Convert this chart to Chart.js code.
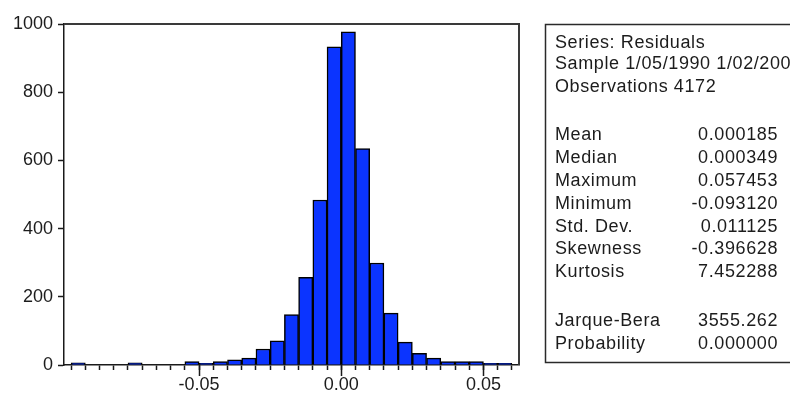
<!DOCTYPE html>
<html lang="en">
<head>
<meta charset="UTF-8">
<title>Residuals histogram</title>
<script src="https://cdn.jsdelivr.net/npm/chart.js@4"></script>
<style>
  html, body { margin: 0; padding: 0; background: #fff; }
  #wrap { width: 790px; height: 394px; position: relative; }
</style>
</head>
<body>
<div id="wrap"><canvas id="hist"></canvas></div>
<script>
// histogram bins (width 0.005), centres and counts
const binCenters = [-0.0925, -0.0875, -0.0825, -0.0775, -0.0725, -0.0675, -0.0625, -0.0575,
                    -0.0525, -0.0475, -0.0425, -0.0375, -0.0325, -0.0275, -0.0225, -0.0175,
                    -0.0125, -0.0075, -0.0025, 0.0025, 0.0075, 0.0125, 0.0175, 0.0225,
                    0.0275, 0.0325, 0.0375, 0.0425, 0.0475, 0.0525, 0.0575];
const counts = [6, 0, 0, 0, 6, 0, 0, 0,
                10, 5, 10, 15, 20, 47, 71, 148,
                257, 484, 933, 977, 635, 299, 152, 67,
                34, 20, 10, 10, 10, 5, 5];
const binWidth = 0.005;
const xLabelValues = [-0.05, 0, 0.05];
const xLabelText = ['-0.05', '0.00', '0.05'];
const yTicks = [0, 200, 400, 600, 800, 1000];

// statistics panel
const headerLines = ['Series: Residuals', 'Sample 1/05/1990 1/02/2006', 'Observations 4172'];
const statNames = ['Mean', 'Median', 'Maximum', 'Minimum', 'Std. Dev.', 'Skewness', 'Kurtosis'];
const statValues = ['0.000185', '0.000349', '0.057453', '-0.093120', '0.011125', '-0.396628', '7.452288'];
const testNames = ['Jarque-Bera', 'Probability'];
const testValues = ['3555.262', '0.000000'];

const FAMILY = '"Liberation Sans", Arial, sans-serif';
const TEXT = '#1c1c1c';

// bin edges give the small ticks under the x axis
const binEdges = binCenters.map(c => c - binWidth / 2);
binEdges.push(binCenters[binCenters.length - 1] + binWidth / 2);

const framePlugin = {
  id: 'frame',
  afterDraw(chart) {
    const ctx = chart.ctx;
    const a = chart.chartArea;
    const xs = chart.scales.x;
    ctx.save();
    // top + right frame
    ctx.strokeStyle = '#3a3a3a';
    ctx.lineWidth = 2;
    ctx.beginPath();
    ctx.moveTo(a.left, a.top);
    ctx.lineTo(a.right, a.top);
    ctx.lineTo(a.right, a.bottom);
    ctx.stroke();
    // longer ticks at the labelled values
    ctx.strokeStyle = '#1a1a1a';
    ctx.lineWidth = 1.5;
    xLabelValues.forEach(v => {
      const px = Math.round(xs.getPixelForValue(v)) + 0.5;
      ctx.beginPath();
      ctx.moveTo(px, a.bottom);
      ctx.lineTo(px, a.bottom + 11);
      ctx.stroke();
    });

    // stats box
    ctx.strokeStyle = '#2a2a2a';
    ctx.lineWidth = 1.5;
    ctx.strokeRect(545.5, 24.5, 300, 338);
    ctx.fillStyle = TEXT;
    ctx.font = '18px ' + FAMILY;
    ctx.letterSpacing = '0.6px';
    ctx.textBaseline = 'middle';
    ctx.textAlign = 'left';
    const headY = [43, 64, 87];
    headerLines.forEach((t, i) => ctx.fillText(t, 555, headY[i]));
    statNames.forEach((t, i) => {
      const y = 135 + i * 22.9;
      ctx.textAlign = 'left';
      ctx.fillText(t, 555, y);
      ctx.textAlign = 'right';
      ctx.fillText(statValues[i], 778, y);
    });
    testNames.forEach((t, i) => {
      const y = 321.5 + i * 22.5;
      ctx.textAlign = 'left';
      ctx.fillText(t, 555, y);
      ctx.textAlign = 'right';
      ctx.fillText(testValues[i], 778, y);
    });
    ctx.restore();
  }
};

new Chart(document.getElementById('hist'), {
  type: 'bar',
  data: {
    datasets: [{
      data: binCenters.map((x, i) => ({ x: x, y: counts[i] })),
      backgroundColor: '#0b34ff',
      borderColor: '#000',
      borderWidth: 1.5,
      barPercentage: 1,
      categoryPercentage: 1
    }]
  },
  options: {
    responsive: true,
    maintainAspectRatio: false,
    animation: false,
    layout: { padding: { top: 24, right: 271, left: 0, bottom: 0 } },
    plugins: { legend: { display: false }, tooltip: { enabled: false } },
    scales: {
      x: {
        type: 'linear',
        offset: false,
        min: -0.0975,
        max: 0.0625,
        afterBuildTicks: s => { s.ticks = binEdges.map(v => ({ value: v })); },
        afterFit: s => { s.height = 29; },
        grid: { offset: false, drawOnChartArea: false, tickLength: 5, tickColor: '#1a1a1a', tickWidth: 1.5 },
        border: { color: '#1a1a1a', width: 1.5 },
        ticks: {
          autoSkip: false,
          maxRotation: 0,
          padding: 4,
          color: TEXT,
          font: { family: FAMILY, size: 18 },
          callback: v => {
            const k = xLabelValues.findIndex(t => Math.abs(t - v) < 1e-6);
            return k >= 0 ? xLabelText[k] : '';
          }
        }
      },
      y: {
        min: 0,
        max: 1000,
        afterBuildTicks: s => { s.ticks = yTicks.map(v => ({ value: v })); },
        afterFit: s => { s.width = 64; },
        grid: { drawOnChartArea: false, tickLength: 6, tickColor: '#1a1a1a', tickWidth: 1.5 },
        border: { color: '#1a1a1a', width: 1.5 },
        ticks: {
          padding: 5,
          color: TEXT,
          font: { family: FAMILY, size: 18 },
          callback: v => String(v)
        }
      }
    }
  },
  plugins: [framePlugin]
});
</script>
</body>
</html>
